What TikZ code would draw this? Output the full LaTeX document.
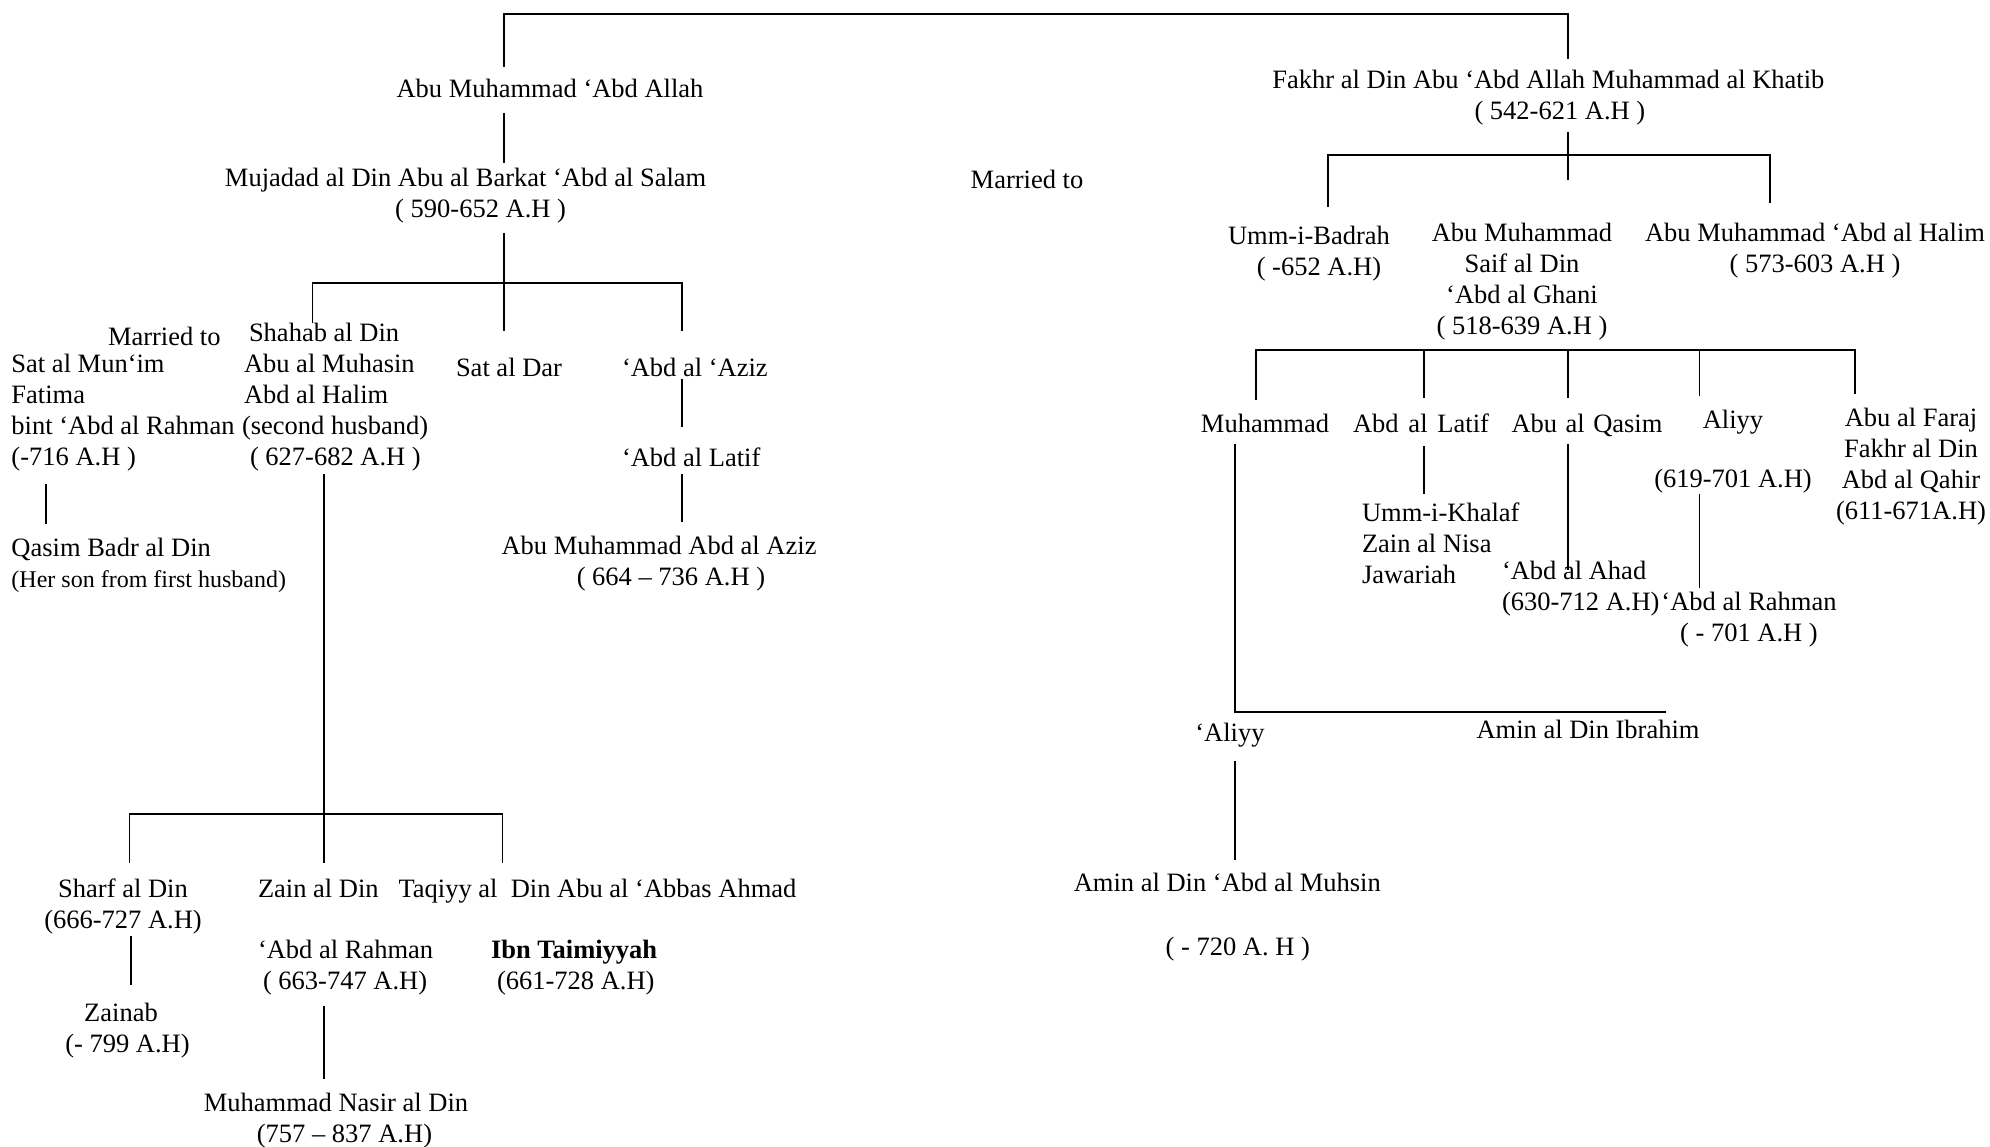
\documentclass[tikz,border=0pt]{standalone}
\usepackage{fontspec}
\setmainfont{Liberation Serif}
\begin{document}
\begin{tikzpicture}[x=1pt,y=-1pt,
  lbl/.style={inner sep=0pt, outer sep=0pt, font=\fontsize{26.5}{31}\selectfont, execute at begin node=\strut, yshift=19.5pt},
  lc/.style={lbl, align=center, anchor=north},
  ll/.style={lbl, align=left, anchor=north west},
  conn/.style={line width=1.9pt, black}]
\fill[white] (0,0) rectangle (1990,1147);
\useasboundingbox (0,0) rectangle (1990,1147);

% ---------- left family ----------
\node[lc] (abd) at (550,95) {Abu Muhammad ‘Abd Allah};
\node[lc] (muj) at (465.6,188) {Mujadad al Din Abu al Barkat ‘Abd al Salam\\\hspace*{30pt}( 590-652 A.H )};
\node[ll] (mar2) at (108,343) {Married to};
\node[ll] (fatima) at (11.5,374) {Sat al Mun‘im\\Fatima\\bint ‘Abd al Rahman\\(-716 A.H )};
\node[ll] (shahab) at (242,343) {\hspace*{7pt}Shahab al Din\\\hspace*{2pt}Abu al Muhasin\\\hspace*{2pt}Abd al Halim\\(second husband)\\\hspace*{8pt}( 627-682 A.H )};
\node[ll] (satdar) at (456,374) {Sat al Dar};
\node[ll] (aziz) at (622,374) {‘Abd al ‘Aziz};
\node[ll] (latifA) at (622,464) {‘Abd al Latif};
\node[lc] (azizB) at (659,556) {Abu Muhammad Abd al Aziz\\\hspace*{24pt}( 664 – 736 A.H )};
\node[ll] (qasimB) at (11.5,558) {Qasim Badr al Din\\{\fontsize{24}{31}\selectfont (Her son from first husband)}};
\node[lc] (sharf) at (123,898.5) {Sharf al Din\\(666-727 A.H)};
\node[lc] (zainab) at (121,1022.8) {Zainab\\\hspace*{13pt}(- 799 A.H)};
\node[ll] (zain) at (258,898.5) {Zain al Din\\[30.5pt]‘Abd al Rahman\\\hspace*{5pt}( 663-747 A.H)};
\node[ll] (taqiyy) at (398.6,898.5) {Taqiyy al\hspace{0.5em}Din Abu al ‘Abbas Ahmad\\[30.5pt]\hspace*{92.4pt}\textbf{Ibn Taimiyyah}\\\hspace*{98.4pt}(661-728 A.H)};
\node[lc] (nasir) at (336,1112.6) {Muhammad Nasir al Din\\\hspace*{17pt}(757 – 837 A.H)};

% ---------- middle ----------
\node[ll] (mar1) at (970.7,186) {Married to};

% ---------- right family ----------
\node[lc] (fakhr) at (1548.4,90) {Fakhr al Din Abu ‘Abd Allah Muhammad al Khatib\\\hspace*{23pt}( 542-621 A.H )};
\node[lc] (umm) at (1309,246) {Umm-i-Badrah\\\hspace*{20pt}( -652 A.H)};
\node[lc] (saif) at (1522,243) {Abu Muhammad\\Saif al Din\\‘Abd al Ghani\\( 518-639 A.H )};
\node[lc] (halim) at (1815,243) {Abu Muhammad ‘Abd al Halim\\( 573-603 A.H )};
\node[lc] (muhd) at (1265,430) {Muhammad};
\node[lc] (latif) at (1421,430) {Abd\hspace{0.37em}al\hspace{0.37em}Latif};
\node[lc] (qasim) at (1587,430) {Abu\hspace{0.32em}al\hspace{0.32em}Qasim};
\node[lc] (aliyy) at (1733,430) {Aliyy\\[28pt](619-701 A.H)};
\node[lc] (faraj) at (1911,428) {Abu al Faraj\\Fakhr al Din\\Abd al Qahir\\(611-671A.H)};
\node[ll] (khalaf) at (1362,522) {Umm-i-Khalaf\\Zain al Nisa\\Jawariah};
\node[ll] (ahad) at (1502,581) {‘Abd al Ahad\\(630-712 A.H)};
\node[lc] (rahmanB) at (1749,612) {‘Abd al Rahman\\( - 701 A.H )};
\node[lc] (aliyyB) at (1230,739) {‘Aliyy};
\node[lc] (ibrahim) at (1588,736) {Amin al Din Ibrahim};
\node[lc] (muhsin) at (1227.3,893) {Amin al Din ‘Abd al Muhsin\\[32.5pt]\hspace*{21pt}( - 720 A.\ H )};

% ---------- connectors ----------
% marriage bar
\coordinate (m0a) at (504,67);  \coordinate (m0b) at (504,14);
\coordinate (m0c) at (1568,14); \coordinate (m0d) at (1568,59);
\draw[conn] (m0a) -- (m0b) -- (m0c) -- (m0d);
% Abd Allah -> Mujadad
\coordinate (a1) at (504,113); \coordinate (a2) at (504,163);
\draw[conn] (a1) -- (a2);
% Mujadad -> children
\coordinate (b0) at (504,233); \coordinate (b1) at (504,283); \coordinate (b1d) at (504,331);
\coordinate (bL) at (312.5,283); \coordinate (bLd) at (312.5,323);
\coordinate (bR) at (682,283); \coordinate (bRd) at (682,331);
\draw[conn] (b0) -- (b1d);
\draw[conn] (bLd) -- (bL) -- (bR) -- (bRd);
% Abd al Aziz line
\coordinate (c1) at (682,379); \coordinate (c2) at (682,427);
\coordinate (c3) at (682,474.5); \coordinate (c4) at (682,522);
\draw[conn] (c1) -- (c2);
\draw[conn] (c3) -- (c4);
% Fatima -> Qasim
\coordinate (q1) at (46,484); \coordinate (q2) at (46,524);
\draw[conn] (q1) -- (q2);
% Shahab -> children
\coordinate (s0) at (324,474.5); \coordinate (s1) at (324,814); \coordinate (s1d) at (324,862.5);
\coordinate (sL) at (129.5,814); \coordinate (sLd) at (129.5,863);
\coordinate (sR) at (502.5,814); \coordinate (sRd) at (502.5,862.5);
\draw[conn] (s0) -- (s1d);
\draw[conn] (sLd) -- (sL) -- (sR) -- (sRd);
% Sharf -> Zainab
\coordinate (z1) at (131,936); \coordinate (z2) at (131,985);
\draw[conn] (z1) -- (z2);
% Zain -> Nasir
\coordinate (n1) at (324,1005.5); \coordinate (n2) at (324,1078.5);
\draw[conn] (n1) -- (n2);

% Fakhr -> children
\coordinate (f0) at (1568,132); \coordinate (f0d) at (1568,180);
\coordinate (fL) at (1328,155); \coordinate (fLd) at (1328,206.7);
\coordinate (fR) at (1770,155); \coordinate (fRd) at (1770,203);
\draw[conn] (f0) -- (f0d);
\draw[conn] (fLd) -- (fL) -- (fR) -- (fRd);
% Saif -> children
\coordinate (g1) at (1255.7,350); \coordinate (g1d) at (1255.7,400);
\coordinate (g2) at (1424,350);   \coordinate (g2d) at (1424,398);
\coordinate (g3) at (1568,350);   \coordinate (g3d) at (1568,398);
\coordinate (g4) at (1699.5,350); \coordinate (g4d) at (1699.5,396);
\coordinate (g5) at (1855.4,350); \coordinate (g5d) at (1855.4,394);
\draw[conn] (g1d) -- (g1) -- (g5) -- (g5d);
\draw[conn] (g2) -- (g2d);
\draw[conn] (g3) -- (g3d);
\draw[conn] (g4) -- (g4d);
% Abd al Latif -> Umm-i-Khalaf
\coordinate (h1) at (1424,446); \coordinate (h2) at (1424,493.7);
\draw[conn] (h1) -- (h2);
% Abu al Qasim -> Abd al Ahad
\coordinate (k1) at (1568,444); \coordinate (k2) at (1568,570);
\draw[conn] (k1) -- (k2);
% Aliyy -> Abd al Rahman
\coordinate (r1) at (1699.5,493.7); \coordinate (r2) at (1699.5,588);
\draw[conn] (r1) -- (r2);
% Muhammad -> children
\coordinate (u1) at (1234.8,444); \coordinate (u2) at (1234.8,711.6); \coordinate (u3) at (1666,711.6);
\draw[conn] (u1) -- (u2) -- (u3);
% 'Aliyy -> Amin al Din 'Abd al Muhsin
\coordinate (w1) at (1234.8,761.4); \coordinate (w2) at (1234.8,859.5);
\draw[conn] (w1) -- (w2);
\end{tikzpicture}
\end{document}
